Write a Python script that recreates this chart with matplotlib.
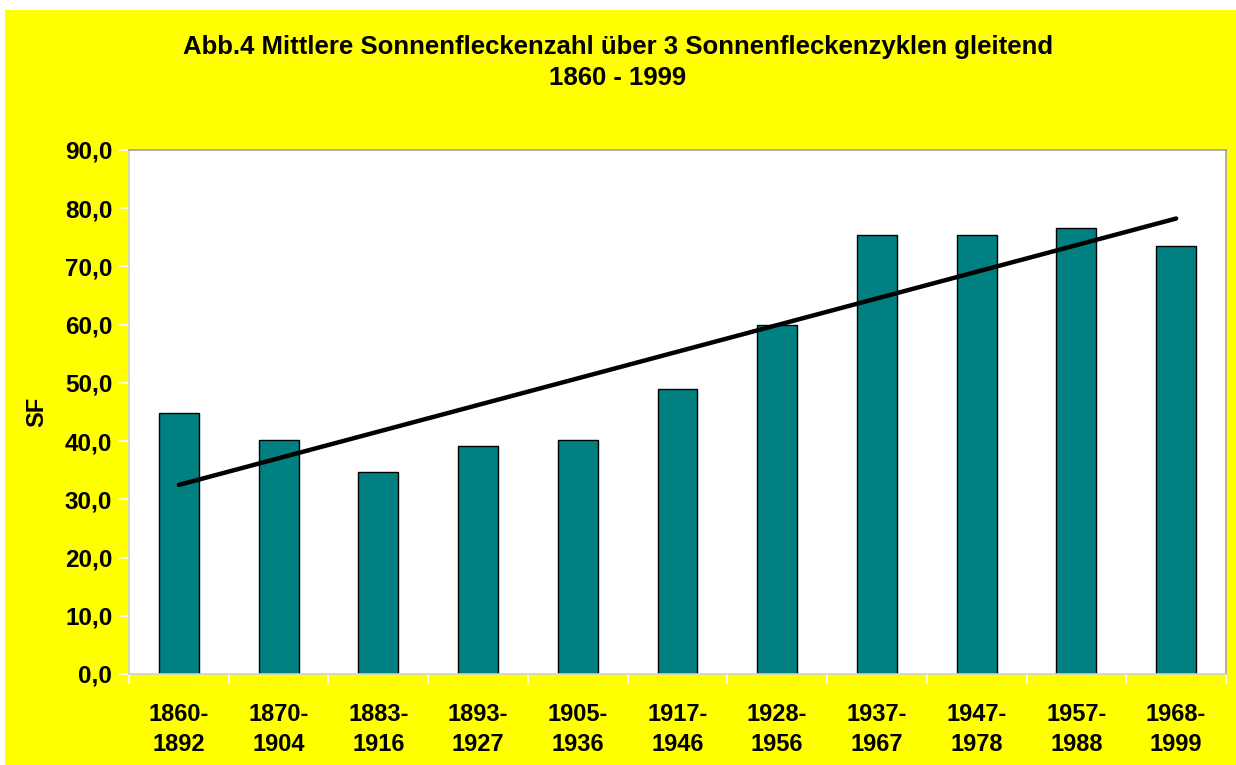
import numpy as np
import matplotlib
matplotlib.use("Agg")
import matplotlib.pyplot as plt
from matplotlib.patches import Rectangle
from matplotlib.ticker import FixedLocator, FuncFormatter

PERIODS = ["1860-\n1892", "1870-\n1904", "1883-\n1916", "1893-\n1927", "1905-\n1936",
           "1917-\n1946", "1928-\n1956", "1937-\n1967", "1947-\n1978", "1957-\n1988",
           "1968-\n1999"]
SF_VALUES = [44.8, 40.2, 34.7, 39.2, 40.2, 49.0, 59.9, 75.4, 75.4, 76.6, 73.5]
Y_TICKS = [0, 10, 20, 30, 40, 50, 60, 70, 80, 90]

plt.rcParams["font.family"] = ["Liberation Sans", "DejaVu Sans"]
plt.rcParams["font.weight"] = "bold"

fig = plt.figure(figsize=(12.36, 7.65), dpi=100, facecolor="white")
# yellow chart area (with thin white margin top/left like the original)
fig.patches.append(Rectangle((5 / 1236, 0), 1, 755 / 765, transform=fig.transFigure,
                             facecolor="#ffff00", edgecolor="none", zorder=0))

ax = fig.add_axes([129 / 1236, 1 - 674 / 765, (1226 - 129) / 1236, (674 - 150) / 765])
ax.set_zorder(5)
ax.set_facecolor("white")

x = np.arange(len(SF_VALUES))
ax.bar(x, SF_VALUES, width=0.4, color="#008080", edgecolor="black", linewidth=1, zorder=2)

# linear trend
k, d = np.polyfit(x, SF_VALUES, 1)
ax.plot(x, k * x + d, color="black", linewidth=3.2, solid_capstyle="round", zorder=3)

ax.set_xlim(-0.5, len(SF_VALUES) - 0.5)
ax.set_ylim(0, 90)
ax.set_yticks(Y_TICKS)
ax.yaxis.set_major_formatter(FuncFormatter(lambda v, p: f"{v:.1f}".replace(".", ",")))
ax.set_xticks(x)
ax.set_xticklabels(PERIODS, fontsize=17, fontweight="bold", linespacing=1.4)
ax.xaxis.set_minor_locator(FixedLocator(np.arange(-0.5, len(SF_VALUES), 1.0)))
ax.tick_params(axis="x", which="major", length=0, pad=21)
ax.tick_params(axis="x", which="minor", length=7, color="white", width=1.2)
ax.tick_params(axis="y", length=7, color="white", width=1.2, labelsize=17.5, pad=5)
for lab in ax.get_yticklabels():
    lab.set_fontweight("bold")

for s in ax.spines.values():
    s.set_color("#a0a0a0")
    s.set_linewidth(1.2)
ax.spines["left"].set_color("#d0d0d0")
ax.spines["bottom"].set_color("#d0d0d0")

ax.set_ylabel("SF", fontsize=17, fontweight="bold", labelpad=12)

fig.text(0.5, 1 - 47 / 765, "Abb.4 Mittlere Sonnenfleckenzahl über 3 Sonnenfleckenzyklen gleitend",
         ha="center", va="center", fontsize=18.5, fontweight="bold")
fig.text(0.5, 1 - 78 / 765, "1860 - 1999", ha="center", va="center", fontsize=18.5, fontweight="bold")

fig.savefig("out.png", dpi=100, facecolor=fig.get_facecolor())
